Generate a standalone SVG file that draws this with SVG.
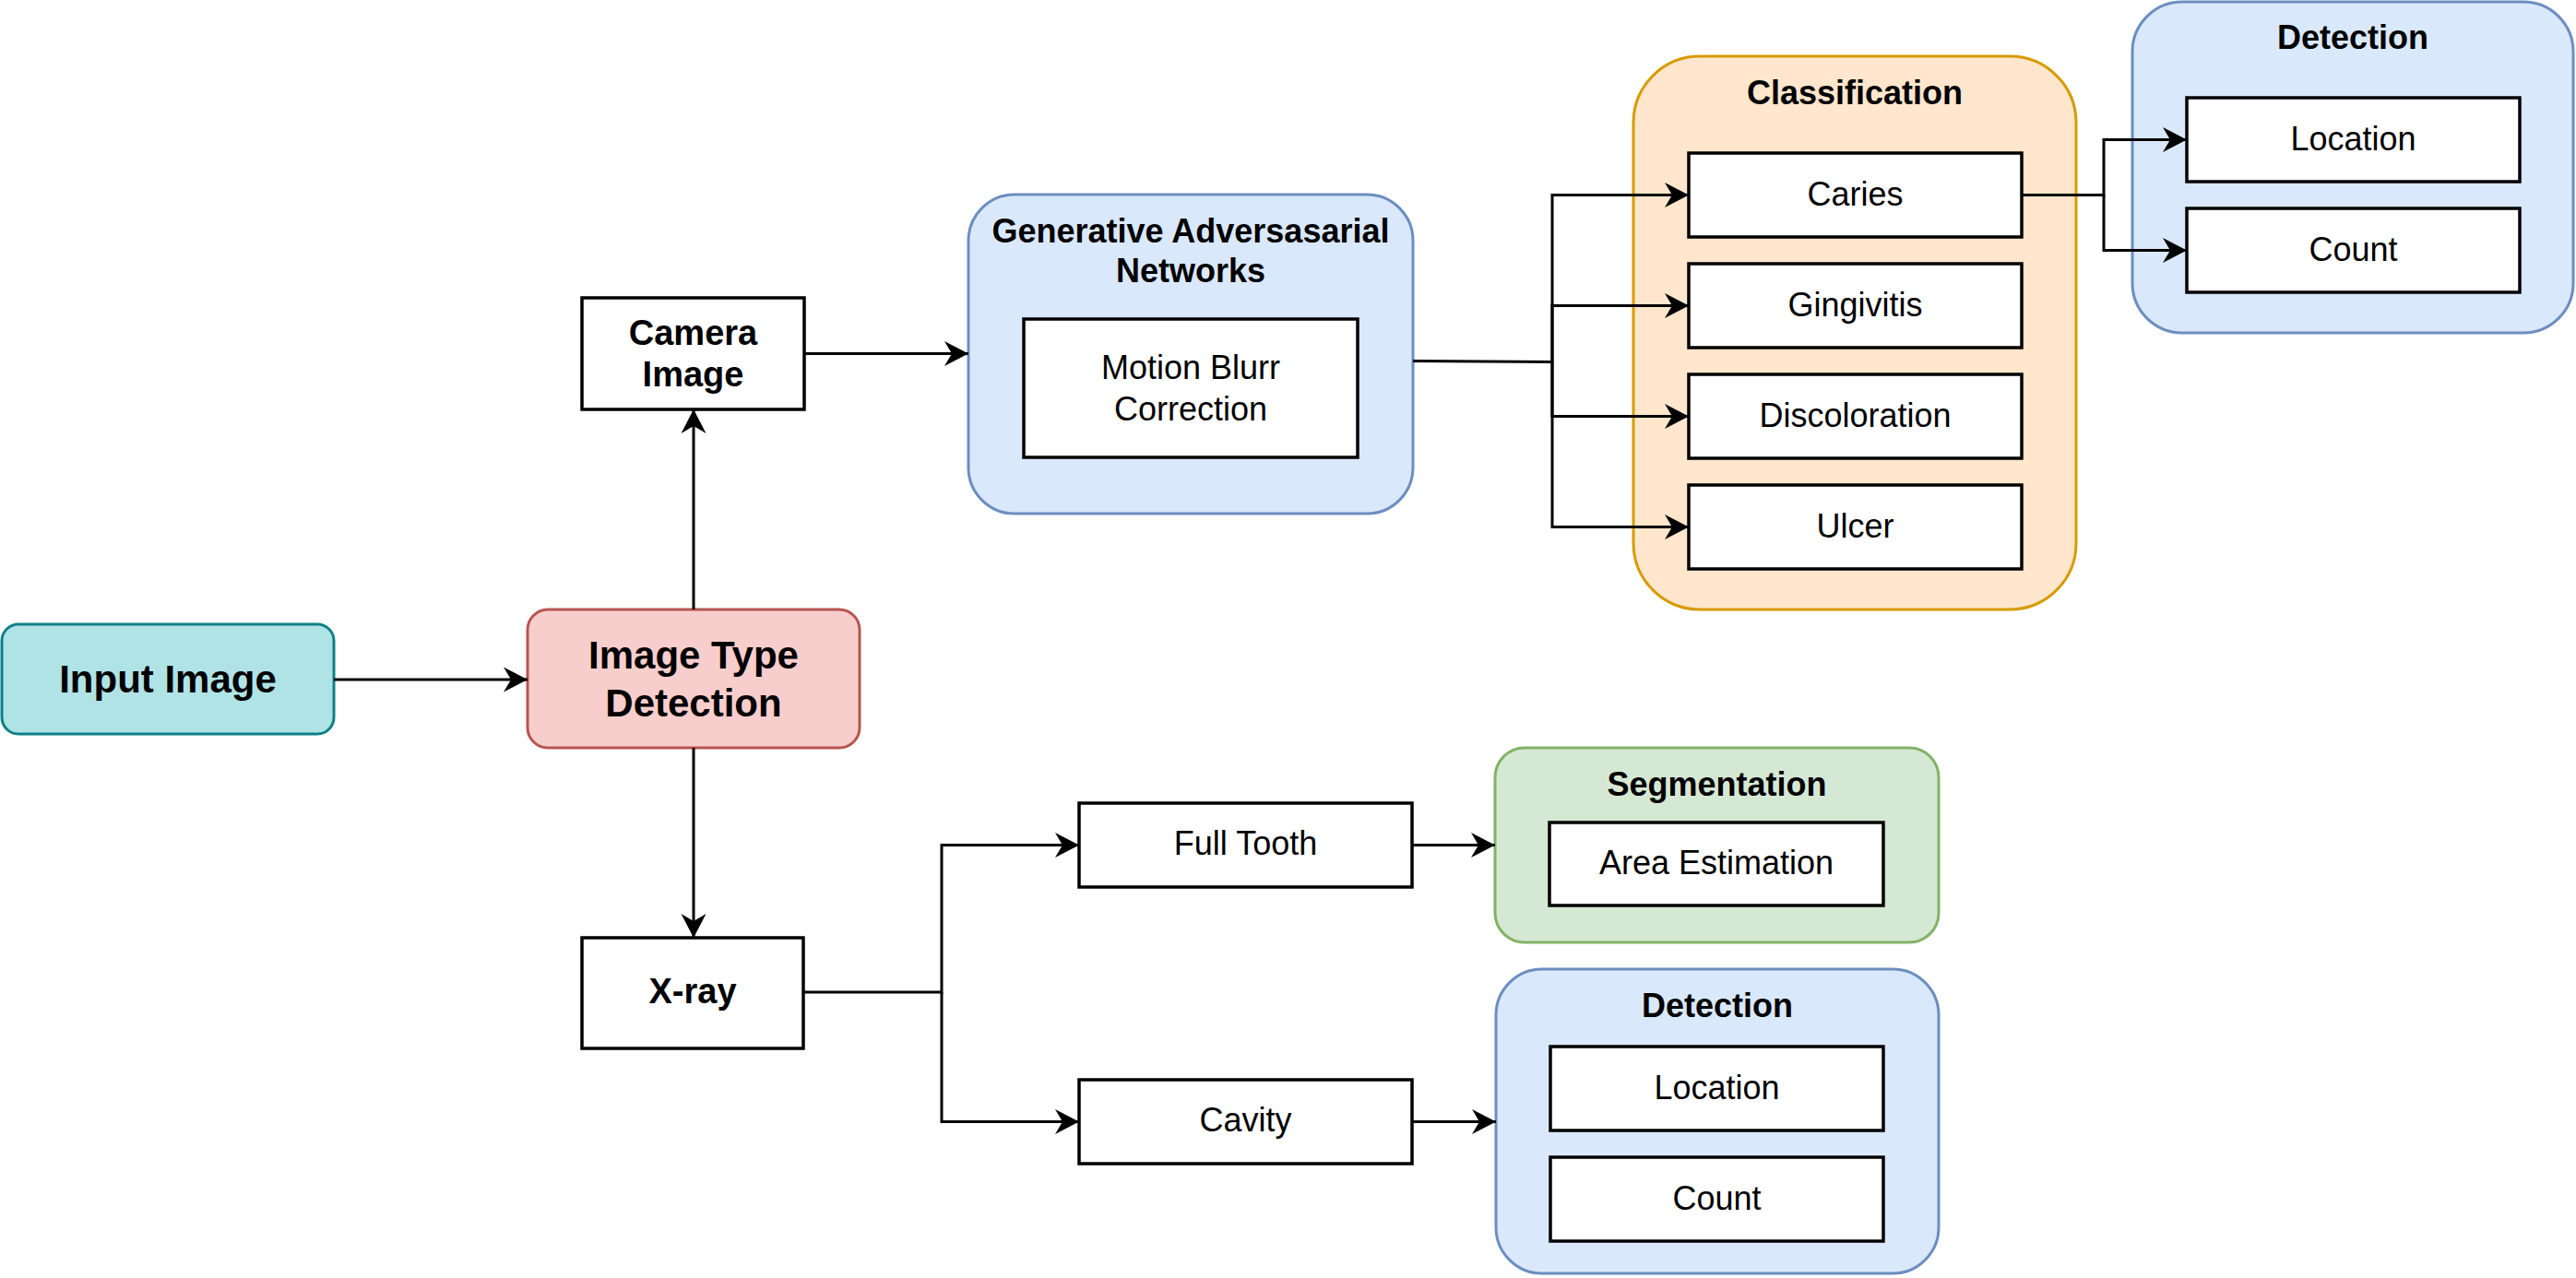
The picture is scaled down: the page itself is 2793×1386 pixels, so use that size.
<svg xmlns="http://www.w3.org/2000/svg" width="2793" height="1386" viewBox="0 0 2793 1386">
<style>
text{font-family:"Liberation Sans",Arial,sans-serif;fill:#000;text-anchor:middle}
.b{font-weight:bold}
.t36{font-size:36px}
.t38{font-size:38px}
.t42{font-size:42px}
.box{fill:#fff;stroke:#000;stroke-width:3.5}
.edge{fill:none;stroke:#000;stroke-width:3}
.blue{fill:#dae8fc;stroke:#6c8ebf;stroke-width:3}
.orange{fill:#ffe6cc;stroke:#d79b00;stroke-width:3}
.green{fill:#d5e8d4;stroke:#82b366;stroke-width:3}
.red{fill:#f8cecc;stroke:#b85450;stroke-width:3}
.teal{fill:#b0e3e6;stroke:#0e8088;stroke-width:3}
</style>
<defs>
<marker id="arr" markerUnits="userSpaceOnUse" markerWidth="28" markerHeight="28" refX="26" refY="13.5" orient="auto" overflow="visible">
<path d="M0,0 L26,13.5 L0,27 L8,13.5 Z" fill="#000"/>
</marker>
</defs>

<g id="input-image">
<rect class="teal" x="2" y="677" width="360" height="119" rx="18"/>
<text class="b t42" x="182" y="751">Input Image</text>
</g>

<g id="image-type-detection">
<rect class="red" x="572" y="661" width="360" height="150" rx="22"/>
<text class="b t42" x="752" y="725">Image Type</text>
<text class="b t42" x="752" y="777">Detection</text>
</g>

<g id="camera-image">
<rect class="box" x="631" y="323" width="241" height="121"/>
<text class="b t38" x="751.5" y="374">Camera</text>
<text class="b t38" x="751.5" y="419">Image</text>
</g>

<g id="xray">
<rect class="box" x="631" y="1017" width="240" height="120"/>
<text class="b t38" x="751" y="1088">X-ray</text>
</g>

<g id="gan">
<rect class="blue" x="1050" y="211" width="482" height="346" rx="50"/>
<text class="b t36" x="1291" y="263">Generative Adversasarial</text>
<text class="b t36" x="1291" y="306">Networks</text>
</g>

<g id="motion-blurr-correction">
<rect class="box" x="1110" y="346" width="362" height="150"/>
<text class="t36" x="1291" y="411">Motion Blurr</text>
<text class="t36" x="1291" y="456">Correction</text>
</g>

<g id="classification">
<rect class="orange" x="1771" y="61" width="480" height="600" rx="72"/>
<text class="b t36" x="2011" y="113">Classification</text>
</g>

<g id="caries">
<rect class="box" x="1831" y="166" width="361" height="91"/>
<text class="t36" x="2011.5" y="222.5">Caries</text>
</g>
<g id="gingivitis">
<rect class="box" x="1831" y="286" width="361" height="91"/>
<text class="t36" x="2011.5" y="342.5">Gingivitis</text>
</g>
<g id="discoloration">
<rect class="box" x="1831" y="406" width="361" height="91"/>
<text class="t36" x="2011.5" y="462.5">Discoloration</text>
</g>
<g id="ulcer">
<rect class="box" x="1831" y="526" width="361" height="91"/>
<text class="t36" x="2011.5" y="582.5">Ulcer</text>
</g>

<g id="detection-top">
<rect class="blue" x="2312" y="2" width="478" height="359" rx="54"/>
<text class="b t36" x="2551" y="53">Detection</text>
</g>
<g id="location-top">
<rect class="box" x="2371" y="106" width="361" height="91"/>
<text class="t36" x="2551.5" y="162.5">Location</text>
</g>
<g id="count-top">
<rect class="box" x="2371" y="226" width="361" height="91"/>
<text class="t36" x="2551.5" y="282.5">Count</text>
</g>

<g id="full-tooth">
<rect class="box" x="1170" y="871" width="361" height="91"/>
<text class="t36" x="1350.5" y="927">Full Tooth</text>
</g>

<g id="cavity">
<rect class="box" x="1170" y="1171" width="361" height="91"/>
<text class="t36" x="1350.5" y="1227">Cavity</text>
</g>

<g id="segmentation">
<rect class="green" x="1621" y="811" width="481" height="211" rx="32"/>
<text class="b t36" x="1861.5" y="863">Segmentation</text>
</g>
<g id="area-estimation">
<rect class="box" x="1680" y="892" width="362" height="90"/>
<text class="t36" x="1861" y="948">Area Estimation</text>
</g>

<g id="detection-bottom">
<rect class="blue" x="1622" y="1051" width="480" height="330" rx="50"/>
<text class="b t36" x="1862" y="1103">Detection</text>
</g>
<g id="location-bottom">
<rect class="box" x="1681" y="1135" width="361" height="91"/>
<text class="t36" x="1861.5" y="1191.5">Location</text>
</g>
<g id="count-bottom">
<rect class="box" x="1681" y="1255" width="361" height="91"/>
<text class="t36" x="1861.5" y="1311.5">Count</text>
</g>

<g id="connectors">
<path class="edge" d="M362,737 H572" marker-end="url(#arr)"/>
<path class="edge" d="M752,661 V444" marker-end="url(#arr)"/>
<path class="edge" d="M752,811 V1017" marker-end="url(#arr)"/>
<path class="edge" d="M872,383.5 H1050" marker-end="url(#arr)"/>
<path class="edge" d="M1532,391.5 L1683,392.5 V211.5 H1831" marker-end="url(#arr)"/>
<path class="edge" d="M1683,392.5 V331.5 H1831" marker-end="url(#arr)"/>
<path class="edge" d="M1683,392.5 V451.5 H1831" marker-end="url(#arr)"/>
<path class="edge" d="M1683,392.5 V571.5 H1831" marker-end="url(#arr)"/>
<path class="edge" d="M2192,211.5 H2281 V151.5 H2371" marker-end="url(#arr)"/>
<path class="edge" d="M2281,211.5 V271.5 H2371" marker-end="url(#arr)"/>
<path class="edge" d="M871,1076 H1021 V916.5 H1170" marker-end="url(#arr)"/>
<path class="edge" d="M1021,1076 V1216.5 H1170" marker-end="url(#arr)"/>
<path class="edge" d="M1531,916.5 H1621" marker-end="url(#arr)"/>
<path class="edge" d="M1531,1216.5 H1622" marker-end="url(#arr)"/>
</g>
</svg>
